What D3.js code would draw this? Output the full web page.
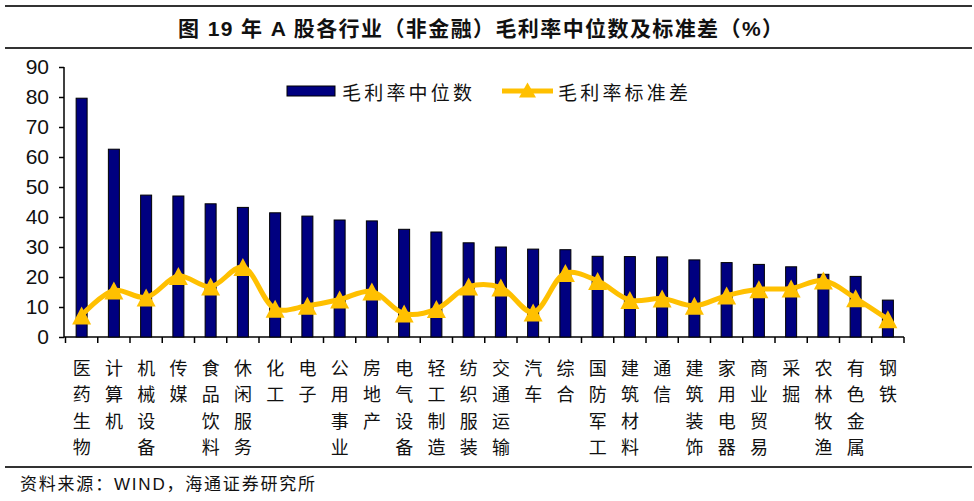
<!DOCTYPE html>
<html><head><meta charset="utf-8">
<script src="https://cdn.jsdelivr.net/npm/d3@7"></script>
<style>
html,body{margin:0;padding:0;background:#fff;}
svg{display:block;}
</style>
</head><body>
<svg id="chart" width="974" height="501"></svg>
<script>
const categories = ["医药生物","计算机","机械设备","传媒","食品饮料","休闲服务","化工","电子","公用事业","房地产","电气设备","轻工制造","纺织服装","交通运输","汽车","综合","国防军工","建筑材料","通信","建筑装饰","家用电器","商业贸易","采掘","农林牧渔","有色金属","钢铁"];
const medianValues = [79.6,62.6,47.3,47.0,44.4,43.2,41.4,40.3,39.0,38.7,35.9,35.0,31.4,30.0,29.3,29.1,26.9,26.8,26.7,25.7,24.8,24.2,23.4,20.9,20.2,12.3];
const stdValues = [7.2,15.5,13.2,20.3,16.8,23.3,9.4,10.4,12.5,15.2,7.8,9.3,16.8,16.5,8.2,21.3,18.7,12.3,12.8,10.4,13.8,15.9,16.2,18.8,12.9,5.9];
const yTicks = [0,10,20,30,40,50,60,70,80,90];
const seriesNames = ["毛利率中位数","毛利率标准差"];
const titleText = "图 19 年 A 股各行业（非金融）毛利率中位数及标准差（%）";
const sourceText = "资料来源：WIND，海通证券研究所";

const svg = d3.select("#chart");
const cjk = "'Noto Sans CJK SC','Noto Sans',sans-serif";
const gold = "#FFC000", navy = "#000080";

// title block
svg.append("line").attr("x1",5).attr("x2",972).attr("y1",6).attr("y2",6).attr("stroke","#333").attr("stroke-width",2);
svg.append("line").attr("x1",5).attr("x2",972).attr("y1",48).attr("y2",48).attr("stroke","#333").attr("stroke-width",2);
svg.append("text").attr("x",178).attr("y",28).attr("dominant-baseline","central")
  .attr("font-family","'Liberation Sans',"+cjk).attr("font-weight","bold").attr("font-size",21)
  .attr("textLength",605).attr("lengthAdjust","spacing")
  .attr("fill","#111").text(titleText);

// scales
const x = d3.scaleBand().domain(categories).range([65.5,904]).paddingInner(0).paddingOuter(0);
const y = d3.scaleLinear().domain([0,90]).range([337,67]);

// y axis
const yAxis = d3.axisLeft(y).tickValues(yTicks).tickSize(5).tickPadding(10).tickFormat(d3.format("d"));
const gy = svg.append("g").attr("transform","translate(64,0)").call(yAxis);
gy.select(".domain").attr("stroke","#000").attr("stroke-width",1.5).attr("d","M0,67V337");
gy.selectAll(".tick line").attr("stroke","#000").attr("stroke-width",1.5);
gy.selectAll(".tick text").attr("font-family","'Liberation Sans',Arial,sans-serif").attr("font-size",21).attr("fill","#111");

// x axis line & ticks at band boundaries
const gx = svg.append("g");
gx.append("line").attr("x1",64).attr("x2",904).attr("y1",337).attr("y2",337).attr("stroke","#000").attr("stroke-width",1.5);
const boundaries = categories.map(c=>x(c)).concat([x(categories[categories.length-1])+x.bandwidth()]);
gx.selectAll("line.tk").data(boundaries).join("line").attr("class","tk")
  .attr("x1",d=>d).attr("x2",d=>d).attr("y1",337).attr("y2",343).attr("stroke","#000").attr("stroke-width",1.5);

// bars
const bw = 11;
svg.append("g").selectAll("rect").data(categories).join("rect")
  .attr("x",(c)=>x(c)+x.bandwidth()/2-bw/2)
  .attr("y",(c,i)=>y(medianValues[i]))
  .attr("width",bw)
  .attr("height",(c,i)=>y(0)-y(medianValues[i]))
  .attr("fill",navy).attr("stroke","#000").attr("stroke-width",1);

// line
const pts = categories.map((c,i)=>[x(c)+x.bandwidth()/2, y(stdValues[i])]);
svg.append("path").attr("d",d3.line().curve(d3.curveCatmullRom.alpha(0.5))(pts))
  .attr("fill","none").attr("stroke",gold).attr("stroke-width",5).attr("stroke-linejoin","round");
const tri = (cx,cy,w,h)=>`M${cx},${cy-h/2}L${cx+w/2},${cy+h/2}L${cx-w/2},${cy+h/2}Z`;
svg.append("g").selectAll("path").data(pts).join("path")
  .attr("d",d=>tri(d[0],d[1],19,18)).attr("fill",gold);

// category labels (vertical)
const lg = svg.append("g").attr("font-family",cjk).attr("font-size",18).attr("fill","#111");
categories.forEach((c)=>{
  const cx = x(c)+x.bandwidth()/2;
  Array.from(c).forEach((ch,j)=>{
    lg.append("text").attr("x",cx).attr("y",367+j*26.3).attr("text-anchor","middle")
      .attr("dominant-baseline","central").text(ch);
  });
});

// legend
const leg = svg.append("g");
leg.append("rect").attr("x",287).attr("y",86).attr("width",48).attr("height",10).attr("fill",navy).attr("stroke","#000").attr("stroke-width",1);
leg.append("text").attr("x",342).attr("y",91).attr("dominant-baseline","central")
  .attr("font-family",cjk).attr("font-size",19).attr("fill","#111")
  .attr("textLength",130).attr("lengthAdjust","spacing").text(seriesNames[0]);
leg.append("line").attr("x1",502).attr("x2",553).attr("y1",91).attr("y2",91).attr("stroke",gold).attr("stroke-width",5);
leg.append("path").attr("d",tri(527.5,90,17,15)).attr("fill",gold);
leg.append("text").attr("x",558).attr("y",91).attr("dominant-baseline","central")
  .attr("font-family",cjk).attr("font-size",19).attr("fill","#111")
  .attr("textLength",130).attr("lengthAdjust","spacing").text(seriesNames[1]);

// source
svg.append("line").attr("x1",5).attr("x2",972).attr("y1",467).attr("y2",467).attr("stroke","#333").attr("stroke-width",2);
svg.append("text").attr("x",20).attr("y",484).attr("dominant-baseline","central")
  .attr("font-family","'Liberation Sans',"+cjk).attr("font-size",17).attr("fill","#111")
  .attr("textLength",295).attr("lengthAdjust","spacing").text(sourceText);
</script>
</body></html>
